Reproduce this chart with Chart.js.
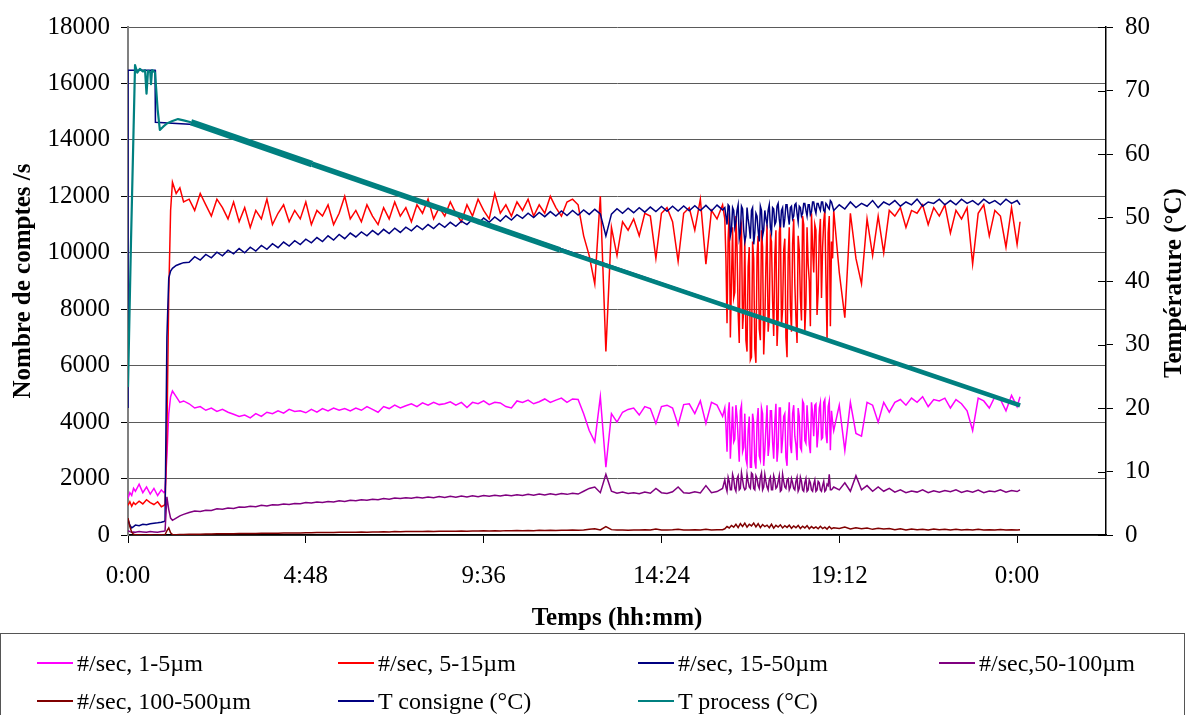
<!DOCTYPE html>
<html><head><meta charset="utf-8">
<script src="https://cdn.jsdelivr.net/npm/chart.js@4.4.0/dist/chart.umd.min.js"></script>
<style>
html,body{margin:0;padding:0;background:#fff;overflow:hidden;}
#wrap{position:relative;width:1186px;height:715px;overflow:hidden;}
#c{position:absolute;left:0;top:0;}
#legend{position:absolute;left:0;top:633px;width:1183px;height:120px;border:1px solid #555;font-family:"Liberation Serif","Times New Roman",serif;font-size:24px;color:#000;}
.li{position:absolute;height:30px;line-height:30px;white-space:nowrap;}
.li .sw{position:absolute;left:0;top:14px;width:36px;height:2px;}
.li .tx{position:absolute;left:40px;top:0;}
</style></head><body>
<div id="wrap"><canvas id="c" width="1186" height="715"></canvas><div id="legend"></div></div>
<script>
// ---------- data ----------
const seriesNames = ['#/sec, 1-5µm','#/sec, 5-15µm','#/sec, 15-50µm','#/sec,50-100µm','#/sec, 100-500µm','T consigne (°C)','T process (°C)'];
const seriesColors = ['#ff00ff','#ff0000','#000080','#800080','#800000','#000080','#008080'];
const xTickValues = [0,4.8,9.6,14.4,19.2,24];
const xTickLabels = ['0:00','4:48','9:36','14:24','19:12','0:00'];
const xTitle = 'Temps (hh:mm)';
const yLeftTitle = 'Nombre de comptes /s';
const yRightTitle = 'Température (°C)';

// time in hours
const times = [
 0,0.05,0.1,0.15,0.2,0.3,0.4,0.5,0.6,0.7,0.8,0.9,0.97,1.0,1.05,1.1,1.15,1.2,1.3,1.4,1.5,
 1.65,1.8,1.95,2.1,2.25,2.4,2.55,2.7,2.85,3.0,
 3.15,3.3,3.45,3.6,3.75,3.9,4.05,4.2,4.35,4.5,
 4.65,4.8,4.95,5.1,5.25,5.4,5.55,5.7,5.85,6.0,
 6.15,6.3,6.45,6.6,6.75,6.9,7.05,7.2,7.35,7.5,
 7.65,7.8,7.95,8.1,8.25,8.4,8.55,8.7,8.85,9.0,
 9.15,9.3,9.45,9.6,9.75,9.9,10.05,10.2,10.35,10.5,
 10.65,10.8,10.95,11.1,11.25,11.4,11.55,11.7,11.85,12.0,
 12.15,12.3,12.45,12.6,12.75,12.9,13.05,13.2,13.35,13.5,
 13.65,13.8,13.95,14.1,14.25,14.4,14.55,14.7,14.85,15.0,
 15.15,15.3,15.45,15.6,15.75,15.9,16.05,
 16.11,16.17,16.23,16.29,16.35,16.41,16.47,16.53,16.59,16.65,
 16.71,16.77,16.83,16.89,16.95,17.01,17.07,17.13,17.19,17.25,
 17.31,17.37,17.43,17.49,17.55,17.61,17.67,17.73,17.79,17.85,
 17.91,17.97,18.03,18.09,18.15,18.21,18.27,18.33,18.39,18.45,
 18.51,18.57,18.63,18.69,18.75,18.81,18.87,18.93,18.99,19.05,
 19.2,19.35,19.5,19.65,19.8,19.95,20.1,20.25,20.4,20.55,
 20.7,20.85,21.0,21.15,21.3,21.45,21.6,21.75,21.9,22.05,
 22.2,22.35,22.5,22.65,22.8,22.95,23.1,23.25,23.4,23.55,
 23.7,23.85,24.0,24.08
];

// extra readings in the dense, strongly fluctuating period (16 h - 19 h)
const denseTimes = [
 16.14,16.20,16.26,16.32,16.38,16.44,16.50,16.56,16.62,16.68,
 16.74,16.80,16.86,16.92,16.98,17.04,17.10,17.16,17.22,17.28,
 17.34,17.40,17.46,17.52,17.58,17.64,17.70,17.76,17.82,17.88,
 17.94,18.00,18.06,18.12,18.18,18.24,18.30,18.36,18.42,18.48,
 18.54,18.60,18.66,18.72,18.78,18.84,18.90,18.96,19.02
];

const counts1_5 = [
 1300,1500,1400,1650,1550,1800,1500,1700,1450,1650,1400,1600,1500,1550,2800,4300,4900,5100,4900,4700,4750,
 4650,4500,4550,4420,4500,4380,4450,4350,4280,4200,
 4250,4150,4300,4200,4350,4300,4400,4320,4450,4380,
 4400,4330,4450,4350,4480,4400,4500,4420,4480,4400,
 4500,4420,4550,4450,4350,4550,4480,4600,4500,4580,
 4650,4550,4680,4600,4700,4620,4650,4720,4600,4700,
 4520,4700,4650,4750,4620,4700,4680,4550,4500,4750,
 4700,4780,4650,4720,4820,4700,4780,4850,4700,4820,
 4800,4300,3700,3300,4900,2400,4300,4000,4350,4450,
 4500,4250,4550,4480,3950,4550,4600,4500,3900,4620,
 4650,4300,4750,3950,4700,4600,4200,
 4500,2950,4700,3600,3300,4600,3400,4400,2950,4300,
 2500,4200,2400,4000,2350,4500,2650,4300,3000,4600,
 3200,4400,2700,4650,3100,4500,3400,4300,2450,4700,
 2900,4600,3200,4500,3100,4750,3350,4600,3200,4700,
 3500,4650,3600,4700,3450,4800,3250,4750,4400,3700,
 4600,3000,4700,3600,3500,4700,4600,4000,4700,4350,
 4700,4800,4600,4850,4700,4900,4550,4800,4750,4850,
 4500,4800,4650,4400,3700,4850,4750,4500,4900,4800,
 4400,4950,4550,4900
];
const dense1_5 = [
 3900,4300,2700,4550,3400,4200,2600,4600,3100,2700,
 3700,2400,4300,2600,4000,2800,4500,2450,3800,2800,
 4400,3300,4000,2600,4500,2900,4200,2750,4000,3200,
 4300,3500,2650,4200,3000,4650,3250,3900,2900,4300,
 4600,3100,4500,3400,4700,3600,4550,3000,4000
];

const counts5_15 = [
 1050,1180,1020,1150,1080,1200,1100,1250,1150,1080,1180,1000,1050,1100,3500,8500,11500,12500,12100,12300,11800,
 11900,11500,12100,11700,11300,11900,11600,11200,11800,11100,
 11600,10900,11500,11200,11900,11000,11400,11700,11100,11500,
 11200,11800,11000,11500,11300,11700,11000,11400,12000,11200,
 11500,11100,11700,11300,11000,11600,11200,11800,11300,11600,
 11100,11700,11400,11900,11200,11600,11300,11800,11400,11100,
 11700,11300,11900,11500,11200,12100,11400,11700,11300,11800,
 11500,11900,11300,11700,11400,12000,11600,11300,11800,11900,
 11700,10600,9900,8900,12000,6500,10900,9900,11100,10800,
 11200,10600,11400,11300,9800,11400,11600,11100,9700,11400,
 11600,10800,11900,9600,11500,11200,11700,
 11200,7500,11400,9000,8400,11300,7900,10800,7300,10500,
 6500,10200,6300,9800,6100,10600,6900,10200,7500,11000,
 7800,10400,7050,10800,7700,11100,8000,10500,6300,10900,
 7200,11200,7700,10600,8400,11300,7200,10900,9000,11400,
 9300,10800,8600,11200,10200,11500,6900,11300,10400,11500,
 9300,7700,11400,9800,8900,11200,9900,11300,10000,11500,
 11300,11600,10900,11500,11400,11700,11000,11600,11300,11700,
 10700,11500,11200,11600,9600,11400,11700,10600,11500,11300,
 10200,11600,10300,11100
];
const dense5_15 = [
 9800,10500,7000,10900,8600,10200,6800,11000,8000,6900,
 9500,6200,10400,6600,9900,7300,10800,6400,9600,7200,
 10600,8300,9900,6700,10700,7400,10100,7000,9800,8100,
 10300,8900,6800,10100,7600,11000,8200,9600,7400,10200,
 11000,7800,10600,8400,11100,9100,10700,7400,9800
];

const counts15_50 = [
 550,350,250,300,350,330,380,360,400,420,430,450,480,500,7000,9100,9350,9450,9550,9600,9650,
 9660,9860,9740,9940,9820,10020,9890,10090,9960,10150,
 10000,10200,10060,10260,10120,10320,10180,10380,10240,10430,
 10290,10480,10350,10540,10400,10600,10450,10650,10500,10700,
 10560,10740,10600,10790,10640,10830,10680,10870,10720,10910,
 10780,10960,10820,11000,10860,11040,10900,11080,10940,11120,
 11000,11190,11040,11230,11080,11270,11120,11310,11160,11350,
 11220,11400,11250,11430,11280,11460,11300,11480,11320,11500,
 11340,11520,11360,11540,11380,10600,11370,11560,11400,11580,
 11420,11600,11440,11620,11460,11640,11470,11650,11480,11660,
 11490,11670,11500,11680,11480,11690,11520,
 11600,11000,11650,10800,11500,11100,11700,10700,11550,10400,
 11600,10900,11500,10300,11400,10800,11650,10600,11500,11000,
 11700,10700,11550,11100,11750,10900,11600,11200,11700,11000,
 11650,11300,11750,11100,11600,11400,11750,11300,11700,11450,
 11800,11400,11750,11500,11800,11450,11700,11550,11800,11500,
 11700,11550,11800,11600,11750,11650,11850,11600,11800,11700,
 11850,11650,11800,11700,11900,11650,11800,11750,11900,11700,
 11850,11700,11900,11750,11850,11700,11900,11750,11850,11700,
 11900,11750,11850,11700
];
const dense15_50 = [
 11300,11700,10600,11600,10900,11500,10500,11650,10800,10600,
 11200,10500,11600,10700,11300,10400,11500,10800,11200,11500,
 10900,11600,11000,11650,11200,11500,10900,11700,11300,11600,
 11200,11700,11400,11650,11300,11750,11500,11700,11350,11800,
 11550,11750,11600,11800,11500,11750,11600,11850,11650
];

const counts50_100 = [
 150,120,100,110,100,120,110,100,120,110,100,120,130,150,1350,900,600,520,600,680,730,
 800,850,830,880,870,930,910,960,940,990,
 980,1020,1000,1050,1030,1070,1060,1100,1080,1120,
 1110,1150,1130,1170,1150,1190,1170,1210,1190,1230,
 1210,1250,1230,1270,1250,1290,1270,1310,1290,1320,
 1300,1340,1310,1350,1320,1360,1330,1370,1340,1380,
 1350,1390,1360,1400,1370,1410,1380,1420,1390,1430,
 1400,1440,1410,1450,1420,1460,1430,1470,1440,1480,
 1450,1550,1650,1700,1500,2150,1550,1480,1520,1470,
 1500,1460,1520,1480,1650,1500,1470,1530,1700,1500,
 1480,1530,1490,1750,1500,1540,1650,
 1950,1550,1900,1600,2000,1550,2100,1650,1950,1600,
 2150,1700,2200,1650,2100,1750,2050,1600,2150,1700,
 1950,1600,2100,1650,1900,1550,2150,1700,1950,1600,
 2000,1650,1900,1550,2050,1600,1850,1550,1950,1600,
 1800,1550,1900,1600,1750,1550,1800,2150,1600,1700,
 1600,1850,1550,2100,1600,1750,1550,1700,1550,1650,
 1520,1600,1500,1560,1520,1600,1500,1570,1520,1580,
 1530,1600,1510,1570,1520,1590,1500,1560,1530,1600,
 1520,1580,1540,1600
];
const dense50_100 = [
 1700,2050,1600,2150,1650,2000,1600,2200,1700,1650,
 1900,1650,2150,1600,2000,1650,2200,1700,1900,1600,
 2050,1600,1950,1700,2100,1600,1900,1650,2000,1700,
 1850,1600,2050,1650,1900,1550,2000,1600,1850,1550,
 1950,1600,1850,1550,1900,1600,1750,1600,1650
];

const counts100_500 = [
 600,300,100,30,10,5,0,0,5,0,0,5,0,10,150,250,80,20,10,15,20,
 25,30,30,35,35,40,40,45,45,50,
 50,55,55,60,60,65,65,70,70,75,
 75,80,80,85,85,90,90,95,95,100,
 100,105,100,110,105,115,110,120,115,120,
 120,125,120,130,125,135,130,135,130,140,
 135,145,140,150,145,150,145,155,150,160,
 155,160,155,165,160,170,160,170,165,175,
 170,175,200,220,180,300,190,175,180,170,
 180,175,185,175,210,180,175,185,200,180,
 175,185,180,200,180,185,190,
 220,300,250,340,280,380,260,400,300,420,
 280,380,320,420,290,400,260,370,300,350,
 260,380,240,340,280,360,250,330,270,350,
 240,320,260,340,230,310,250,330,220,300,
 240,290,220,310,230,280,210,300,220,260,
 230,280,210,260,220,250,200,240,210,230,
 190,220,180,210,190,200,180,210,185,200,
 180,200,175,195,180,200,175,190,180,195,
 180,190,175,185
];

const consigneTimes = [0,0,0.73,0.74,1.9,24.08];
const consigneVals  = [20,73.2,73.2,65,64.6,20.4];

const processTimes = [0,0.08,0.19,0.25,0.32,0.4,0.46,0.5,0.54,0.6,0.62,0.65,0.7,0.73,0.8,0.86,0.95,1.05,1.2,1.35,1.5,1.7,1.9,4.97,11.66,21.11,24.08];
const processVals  = [23.3,46,74,72.8,73.4,73.0,73.2,69.5,73.1,72.9,71.0,73.2,73.0,72.8,67.0,63.8,64.3,64.8,65.2,65.5,65.3,65.0,64.6,58.4,44.9,26.3,20.4];

// ---------- chart ----------
const FONT = '"Liberation Serif","Times New Roman",serif';
const pts = (ts, vs) => ts.map((t,i)=>({x:t,y:vs[i]}));
const merged = (vals, extra) => pts(times, vals).concat(extra ? pts(denseTimes, extra) : []).sort((a,b)=>a.x-b.x);
const countSeries = [[counts1_5,dense1_5],[counts5_15,dense5_15],[counts15_50,dense15_50],[counts50_100,dense50_100],[counts100_500,null]];
const drawOrder = [6,5,4,3,2,1,0];

const datasets = countSeries.map((pair,i)=>({
  label: seriesNames[i], data: merged(pair[0], pair[1]), yAxisID:'y',
  borderColor: seriesColors[i], borderWidth:1.5, pointRadius:0, tension:0, order: drawOrder[i]
}));
datasets.push({label: seriesNames[5], data: pts(consigneTimes, consigneVals), yAxisID:'y2',
  borderColor: seriesColors[5], borderWidth:1.5, pointRadius:0, tension:0, order: drawOrder[5]});
datasets.push({label: seriesNames[6], data: pts(processTimes, processVals), yAxisID:'y2',
  borderColor: seriesColors[6], borderWidth:5, pointRadius:0, tension:0, order: drawOrder[6],
  borderJoinStyle:'round',
  segment:{ borderWidth: c => c.p0.parsed.x < 1.6 ? 2.2 : (c.p0.parsed.x < 4.9 ? 6.5 : (c.p0.parsed.x < 11.6 ? 5.5 : 4.5)) }});

const rightDecor = {
  id:'rightDecor',
  afterDraw(chart){
    const ctx = chart.ctx, a = chart.chartArea, s = chart.scales.y2;
    ctx.save();
    ctx.strokeStyle = '#000'; ctx.lineWidth = 1;
    ctx.beginPath();
    s.ticks.forEach(t => { const y = Math.round(s.getPixelForValue(t.value)) + 0.5; ctx.moveTo(a.right - 8, y); ctx.lineTo(a.right, y); });
    ctx.stroke();
    ctx.translate(1175, (a.top + a.bottom) / 2 + 2);
    ctx.rotate(-Math.PI / 2);
    ctx.font = 'bold 25px ' + FONT;
    ctx.fillStyle = '#000'; ctx.textAlign = 'center'; ctx.textBaseline = 'middle';
    ctx.fillText(yRightTitle, 0, 0);
    ctx.restore();
  }
};

const tickFont = {family: FONT, size: 25};
const titleFont = {family: FONT, size: 25, weight: 'bold'};

new Chart(document.getElementById('c'), {
  type:'line',
  data:{ datasets },
  options:{
    responsive:false, animation:false, normalized:true,
    layout:{ padding:{ top:24, left:0, right:0, bottom:81 } },
    plugins:{ legend:{display:false}, tooltip:{enabled:false} },
    scales:{
      x:{
        type:'linear', min:0, max:26.4,
        afterBuildTicks(s){ s.ticks = xTickValues.map(v => ({value:v})); },
        ticks:{ callback:(v,i) => xTickLabels[i], color:'#000', font:tickFont, padding:18, maxRotation:0, autoSkip:false },
        grid:{ drawOnChartArea:false, drawTicks:true, tickLength:8, tickColor:'#000' },
        border:{ color:'#000', width:1.5 },
        title:{ display:true, text:xTitle, color:'#000', font:titleFont, padding:{top:0,bottom:0} },
        afterFit(s){ s.height = 99; }
      },
      y:{
        type:'linear', position:'left', min:0, max:18000,
        ticks:{ stepSize:2000, color:'#000', font:tickFont, padding:11, callback:v => String(v) },
        grid:{ color:'#5a5a5a', lineWidth:1, tickColor:'#000', tickLength:7 },
        border:{ color:'#808080', width:2 },
        title:{ display:true, text:yLeftTitle, color:'#000', font:titleFont, padding:{top:9,bottom:0} },
        afterFit(s){ s.width = 128; }
      },
      y2:{
        type:'linear', position:'right', min:0, max:80,
        ticks:{ stepSize:10, color:'#000', font:tickFont, padding:12, callback:v => String(v) },
        grid:{ drawOnChartArea:false, tickColor:'#000', tickLength:7 },
        border:{ color:'#000', width:1.5 },
        afterFit(s){ s.width = 80; }
      }
    }
  },
  plugins:[rightDecor]
});

// ---------- legend ----------
const legendCols = [36, 337, 637, 938];
const legendRows = [14, 52];
const leg = document.getElementById('legend');
seriesNames.forEach((name, i) => {
  const el = document.createElement('div');
  el.className = 'li';
  el.style.left = legendCols[i % 4] + 'px';
  el.style.top = legendRows[Math.floor(i / 4)] + 'px';
  el.innerHTML = '<span class="sw" style="background:' + seriesColors[i] + '"></span><span class="tx"></span>';
  el.querySelector('.tx').textContent = name;
  leg.appendChild(el);
});
</script></body></html>
